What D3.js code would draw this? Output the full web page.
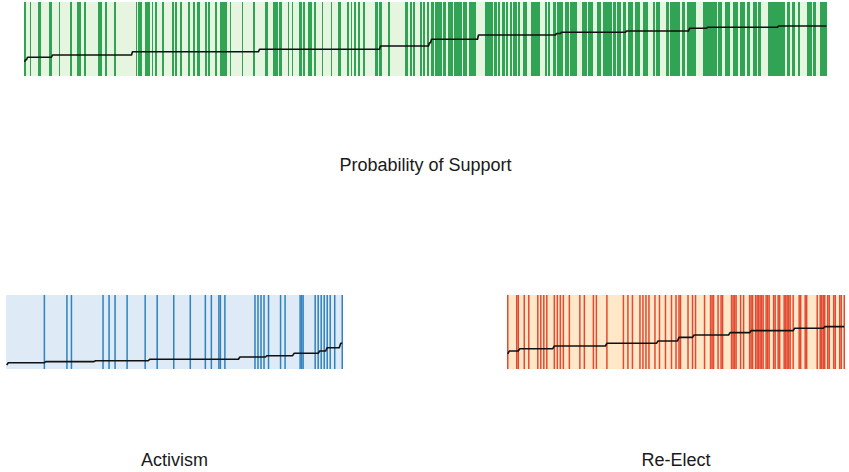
<!DOCTYPE html>
<html>
<head>
<meta charset="utf-8">
<script src="https://cdn.jsdelivr.net/npm/d3@7"></script>
<style>
  html, body { margin: 0; padding: 0; background: #fff; }
  svg { display: block; }
  text { font-family: "Liberation Sans", Arial, sans-serif; fill: #1a1a1a; }
</style>
</head>
<body>
<svg id="chart" width="849" height="472"></svg>
<script>
// Separation plots: observations sorted by fitted probability,
// a coloured band for every observed event, and the fitted
// probability drawn as a line across each panel.

// --- Probability of Support ---------------------------------------
// distinct fitted probabilities (ascending) and how many observations share each
const supportLevels = [0.19, 0.22, 0.253, 0.284, 0.328, 0.361, 0.405, 0.45, 0.496, 0.554, 0.575, 0.591, 0.608, 0.645, 0.658, 0.676];
const supportCounts = [1, 2, 25, 80, 127, 121, 49, 2, 47, 78, 5, 65, 63, 18, 71, 49];
// runs of consecutive (sorted) observations where the outcome occurred: [first, count]
const supportEventRuns = [
  [0,2],[6,1],[14,3],[25,3],[35,1],[46,2],[53,4],[60,2],[74,4],[81,2],[90,2],[112,1],[114,4],[121,5],[128,1],[131,2],
  [138,2],[148,2],[151,2],[156,2],[164,2],[169,2],[173,3],[181,2],[184,2],[191,2],[196,7],[206,1],[218,1],[229,2],[241,3],
  [249,5],[255,3],[264,1],[268,1],[275,3],[279,2],[284,4],[290,2],[298,1],[307,1],[314,3],[323,2],[327,1],[330,2],[334,2],
  [339,2],[351,3],[355,3],[364,2],[381,3],[386,2],[389,2],[396,2],[399,2],[403,2],[407,3],[411,7],[419,3],[424,5],[430,8],
  [439,4],[445,7],[461,8],[470,3],[474,2],[478,3],[482,2],[486,2],[489,4],[494,2],[499,4],[507,9],[521,2],[524,2],[529,3],
  [533,6],[541,4],[546,7],[558,5],[564,5],[573,4],[579,9],[589,3],[593,4],[599,3],[604,5],[611,5],[619,5],[629,2],[632,4],
  [642,3],[646,10],[658,3],[663,9],[679,14],[694,4],[701,5],[709,5],[716,5],[723,3],[729,4],[734,3],[744,17],[763,3],[768,3],
  [774,2],[783,5],[789,3],[796,7]
];

// --- Activism -----------------------------------------------------
const activismLevels = [0.054, 0.085, 0.099, 0.112, 0.131, 0.162, 0.18, 0.212, 0.243, 0.288, 0.347];
const activismCounts = [1, 25, 33, 36, 60, 18, 18, 17, 5, 9, 2];
const activismEventRuns = [
  [25,1],[40,1],[43,1],[64,1],[68,1],[72,1],[80,1],[92,1],[100,1],[111,1],[122,1],[132,1],[136,1],[141,2],[145,1],[165,1],
  [167,1],[169,1],[171,1],[174,1],[182,1],[185,1],[195,3],[205,1],[207,1],[209,1],[211,1],[213,1],[215,1],[218,1],[223,1]
];

// --- Re-Elect -----------------------------------------------------
const reelectLevels = [0.203, 0.243, 0.274, 0.311, 0.347, 0.378, 0.428, 0.459, 0.491, 0.518, 0.55, 0.572];
const reelectCounts = [1, 7, 23, 35, 34, 14, 10, 24, 14, 29, 20, 14];
const reelectEventRuns = [
  [0,1],[6,2],[11,1],[14,1],[20,1],[22,1],[24,1],[26,1],[31,1],[33,1],[35,1],[37,1],[41,1],[48,1],[51,1],[57,1],[59,1],
  [66,1],[77,1],[80,1],[83,1],[88,1],[90,1],[92,1],[94,1],[98,1],[101,1],[105,1],[109,1],[112,1],[114,2],[120,1],[123,1],
  [125,1],[131,1],[135,3],[140,1],[142,2],[149,4],[155,1],[157,1],[161,3],[165,6],[172,3],[177,2],[180,2],[184,5],[190,1],
  [194,2],[198,2],[206,1],[208,4],[213,2],[217,2],[221,2],[224,1]
];

const panelTitles = ["Probability of Support", "Activism", "Re-Elect"];

const svg = d3.select("#chart");

function separationPlot(cfg) {
  const probs = cfg.levels.flatMap((p, i) => Array(cfg.counts[i]).fill(p));
  const hits = new Set(cfg.runs.flatMap(([s, k]) => d3.range(s, s + k)));
  const obs = probs.map((p, i) => ({ i, p, y: hits.has(i) ? 1 : 0 }));
  const n = obs.length;

  const x = d3.scaleLinear().domain([0, n]).range([cfg.left, cfg.right]);
  const y = d3.scaleLinear().domain([0, 1]).range([cfg.bottom, cfg.top]);

  const g = svg.append("g");

  g.append("rect")
    .attr("x", x(0)).attr("y", y(1))
    .attr("width", x(n) - x(0)).attr("height", y(0) - y(1))
    .attr("fill", cfg.bg);

  g.selectAll("rect.event")
    .data(obs.filter(d => d.y === 1))
    .join("rect")
    .attr("class", "event")
    .attr("x", d => x(d.i))
    .attr("y", y(1))
    .attr("width", d => x(d.i + 1) - x(d.i))
    .attr("height", y(0) - y(1))
    .attr("fill", cfg.fg);

  const line = d3.line().x(d => x(d.i + 0.5)).y(d => y(d.p));
  g.append("path")
    .datum(obs)
    .attr("d", line)
    .attr("fill", "none")
    .attr("stroke", "#111")
    .attr("stroke-width", 1.6)
    .attr("stroke-linejoin", "round");

  svg.append("text")
    .attr("x", (cfg.left + cfg.right) / 2)
    .attr("y", cfg.titleY)
    .attr("text-anchor", "middle")
    .attr("font-size", 18)
    .text(cfg.title);
}

separationPlot({
  levels: supportLevels, counts: supportCounts, runs: supportEventRuns,
  left: 24, right: 827, top: 2, bottom: 76, titleY: 171,
  bg: "#e5f5e0", fg: "#31a354", title: panelTitles[0]
});
separationPlot({
  levels: activismLevels, counts: activismCounts, runs: activismEventRuns,
  left: 6, right: 343, top: 295, bottom: 369, titleY: 466,
  bg: "#deebf7", fg: "#3182bd", title: panelTitles[1]
});
separationPlot({
  levels: reelectLevels, counts: reelectCounts, runs: reelectEventRuns,
  left: 507, right: 845, top: 295, bottom: 369, titleY: 466,
  bg: "#fee8c8", fg: "#e34a33", title: panelTitles[2]
});
</script>
</body>
</html>
